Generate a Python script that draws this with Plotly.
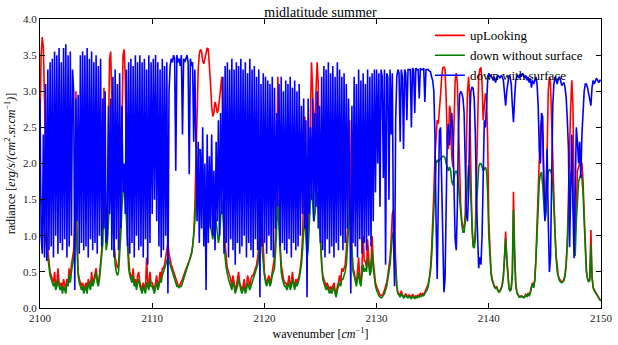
import numpy as np
import plotly.graph_objects as go

# wavenumber grid [cm^-1], 0.1 cm^-1 spacing, 2100..2150
wavenumber = np.round(2100 + np.arange(501) * 0.1, 1)

up_looking = [
    2.6, 3.5, 3.75, 3.6, 2.9, 1.8, 1.1, 0.8, 0.6, 0.5,
    0.45, 0.4, 0.35, 0.5, 0.3, 0.35, 0.55, 0.35, 0.3, 0.35,
    0.25, 0.4, 0.3, 0.25, 0.4, 0.35, 0.55, 0.4, 0.6, 0.7,
    0.8, 1.2, 3.0, 1.1, 0.5, 0.4, 0.35, 0.3, 0.35, 0.25,
    0.3, 0.35, 0.25, 0.4, 0.35, 0.3, 0.5, 0.35, 0.4, 0.5,
    0.55, 0.4, 0.35, 0.45, 0.6, 0.8, 1.2, 3.05, 1.4, 0.9,
    1.3, 2.6, 3.45, 3.55, 2.9, 1.6, 0.9, 0.7, 0.6, 0.55,
    0.6, 0.9, 1.5, 2.8, 3.5, 3.58, 3.2, 2.0, 1.0, 0.7,
    0.5, 0.45, 0.4, 0.55, 0.35, 0.4, 0.3, 0.45, 0.5, 0.35,
    0.3, 0.25, 0.35, 0.3, 0.25, 0.7, 0.35, 0.3, 0.5, 0.35,
    0.35, 0.3, 0.25, 0.35, 0.45, 0.3, 0.35, 0.5, 0.4, 0.55,
    0.55, 0.6, 0.7, 0.8, 0.9, 0.75, 0.65, 0.6, 0.55, 0.5,
    0.45, 0.4, 0.35, 0.32, 0.3, 0.33, 0.35, 0.4, 0.45, 0.5,
    0.55, 0.6, 0.62, 0.65, 0.7, 0.75, 0.85, 1.0, 1.4, 2.1,
    2.8, 3.3, 3.52, 3.58, 3.55, 3.42, 3.38, 3.45, 3.55, 3.6,
    3.58, 3.4, 3.1, 2.8, 2.65, 2.7, 2.85, 2.8, 2.7, 2.75,
    2.9, 3.05, 3.2, 2.6, 1.5, 0.9, 0.7, 0.55, 0.5, 0.45,
    0.4, 0.3, 0.45, 0.35, 0.25, 0.3, 0.4, 0.5, 0.35, 0.3,
    0.25, 0.3, 0.4, 0.25, 0.3, 0.45, 0.35, 0.3, 0.4, 0.45,
    0.45, 0.5, 0.55, 0.6, 0.7, 0.85, 1.3, 2.35, 1.2, 0.7,
    0.5, 0.4, 0.35, 0.4, 0.45, 0.35, 0.4, 0.5, 0.6, 0.7,
    1.0, 2.3, 3.2, 2.2, 0.9, 0.6, 0.45, 0.4, 0.35, 0.35,
    0.3, 0.35, 0.45, 0.3, 0.35, 0.5, 0.35, 0.3, 0.4, 0.35,
    0.4, 0.45, 0.55, 0.7, 1.0, 1.6, 2.65, 1.6, 0.9, 1.0,
    1.8, 3.0, 3.4, 3.0, 2.2, 2.6, 3.2, 3.4, 3.1, 2.0,
    1.0, 0.6, 0.45, 0.4, 0.35, 0.3, 0.35, 0.3, 0.25, 0.3,
    0.25, 0.3, 0.35, 0.25, 0.2, 0.3, 0.35, 0.45, 0.35, 0.55,
    0.5, 0.55, 0.6, 0.8, 1.1, 1.7, 2.6, 1.6, 0.8, 0.55,
    0.5, 0.4, 0.35, 0.5, 0.7, 0.4, 0.35, 0.6, 1.0, 0.65,
    0.65, 0.55, 0.95, 0.7, 0.5, 0.6, 1.0, 0.65, 0.45, 0.35,
    0.3, 0.25, 0.2, 0.18, 0.17, 0.18, 0.2, 0.25, 0.3, 0.35,
    0.45, 0.55, 0.7, 0.95, 1.3, 1.36, 1.0, 0.55, 0.3, 0.2,
    0.2, 0.17, 0.24, 0.18, 0.16, 0.17, 0.2, 0.17, 0.16, 0.18,
    0.17, 0.15, 0.19, 0.16, 0.15, 0.17, 0.16, 0.18, 0.17, 0.2,
    0.18, 0.2, 0.19, 0.22, 0.25, 0.28, 0.33, 0.42, 0.55, 0.8,
    1.1, 1.6, 2.1, 2.45, 2.6, 2.55, 2.7, 2.95, 3.2, 3.32,
    3.34, 3.3, 2.9, 2.3, 2.2, 2.8, 2.7, 2.1, 1.95, 2.6,
    3.15, 3.25, 3.1, 2.5, 1.8, 1.4, 1.2, 1.12, 1.1, 1.3,
    2.2, 3.0, 3.2, 2.9, 1.9, 1.1, 0.88, 0.85, 1.1, 1.9,
    2.8, 3.2, 3.3, 3.33, 3.1, 2.6, 2.8, 2.97, 2.9, 2.3,
    1.2, 0.7, 0.5, 0.4, 0.33, 0.3, 0.28, 0.3, 0.25, 0.23,
    0.24, 0.27, 0.33, 0.45, 0.7, 1.06, 0.7, 0.4, 0.28, 0.24,
    0.28, 0.5, 1.61, 0.8, 0.35, 0.22, 0.18, 0.16, 0.16, 0.17,
    0.16, 0.15, 0.16, 0.19, 0.17, 0.2, 0.18, 0.22, 0.3, 0.35,
    0.3, 0.4, 0.7, 1.2, 1.8, 2.3, 2.5, 2.6, 2.4, 1.8,
    1.3, 1.4, 2.4, 3.0, 3.2, 3.1, 2.6, 2.0, 1.5, 1.05,
    0.72, 0.52, 0.44, 0.4, 0.37, 0.36, 0.37, 0.4, 0.47, 0.63,
    0.95, 1.6, 2.3, 2.8, 3.15, 2.8, 1.6, 1.0, 1.4, 1.9,
    1.95, 2.0, 2.05, 2.0, 1.75, 1.3, 0.8, 0.52, 0.41, 0.37,
    0.4, 1.08, 0.45, 0.29, 0.25, 0.22, 0.2, 0.17, 0.14, 0.12,
    0.1,
]

down_without_surface = [
    1.5, 1.5, 1.4, 1.3, 1.1, 0.9, 0.8, 0.7, 0.55, 0.45,
    0.4, 0.35, 0.3, 0.35, 0.25, 0.3, 0.4, 0.3, 0.25, 0.3,
    0.2, 0.3, 0.25, 0.2, 0.35, 0.3, 0.45, 0.35, 0.5, 0.6,
    0.7, 0.9, 1.4, 0.8, 0.45, 0.35, 0.3, 0.25, 0.3, 0.2,
    0.25, 0.3, 0.2, 0.35, 0.3, 0.25, 0.4, 0.3, 0.35, 0.45,
    0.5, 0.35, 0.3, 0.4, 0.55, 0.7, 0.9, 1.6, 1.1, 0.8,
    0.9, 1.2, 1.5, 1.6, 1.3, 1.0, 0.75, 0.6, 0.5, 0.45,
    0.5, 0.7, 1.0, 1.4, 1.7, 1.8, 1.6, 1.2, 0.8, 0.55,
    0.45, 0.4, 0.35, 0.45, 0.3, 0.35, 0.25, 0.35, 0.4, 0.3,
    0.25, 0.2, 0.3, 0.25, 0.2, 0.35, 0.3, 0.25, 0.4, 0.3,
    0.3, 0.25, 0.2, 0.3, 0.35, 0.25, 0.3, 0.4, 0.35, 0.45,
    0.5, 0.55, 0.6, 0.65, 0.7, 0.65, 0.6, 0.55, 0.5, 0.45,
    0.4, 0.35, 0.3, 0.3, 0.28, 0.3, 0.3, 0.35, 0.4, 0.45,
    0.5, 0.55, 0.6, 0.65, 0.7, 0.75, 0.85, 1.0, 1.2, 1.5,
    1.8, 2.0, 2.2, 2.15, 2.0, 1.85, 1.7, 1.6, 1.5, 1.4,
    1.3, 1.2, 1.1, 1.0, 0.95, 1.1, 1.3, 1.2, 1.0, 0.9,
    1.0, 1.2, 1.5, 1.3, 0.9, 0.7, 0.55, 0.45, 0.4, 0.35,
    0.3, 0.25, 0.35, 0.3, 0.2, 0.25, 0.3, 0.4, 0.3, 0.25,
    0.2, 0.25, 0.3, 0.2, 0.25, 0.35, 0.3, 0.25, 0.3, 0.35,
    0.4, 0.45, 0.5, 0.55, 0.6, 0.7, 0.9, 1.2, 0.8, 0.6,
    0.45, 0.35, 0.3, 0.35, 0.4, 0.3, 0.35, 0.45, 0.5, 0.55,
    0.8, 1.2, 1.5, 1.1, 0.7, 0.5, 0.4, 0.35, 0.3, 0.3,
    0.25, 0.3, 0.35, 0.25, 0.3, 0.4, 0.3, 0.25, 0.35, 0.3,
    0.35, 0.4, 0.5, 0.6, 0.8, 1.0, 1.3, 1.0, 0.7, 0.8,
    1.2, 1.5, 1.7, 1.5, 1.2, 1.3, 1.5, 1.6, 1.4, 1.1,
    0.8, 0.5, 0.4, 0.35, 0.3, 0.25, 0.3, 0.25, 0.2, 0.25,
    0.2, 0.25, 0.3, 0.2, 0.15, 0.25, 0.3, 0.35, 0.3, 0.4,
    0.4, 0.45, 0.5, 0.6, 0.8, 1.1, 1.5, 1.1, 0.7, 0.5,
    0.45, 0.35, 0.3, 0.4, 0.5, 0.35, 0.3, 0.45, 0.6, 0.5,
    0.55, 0.5, 0.7, 0.6, 0.45, 0.5, 0.8, 0.55, 0.4, 0.3,
    0.25, 0.2, 0.17, 0.15, 0.14, 0.15, 0.17, 0.2, 0.25, 0.3,
    0.4, 0.5, 0.6, 0.8, 1.0, 1.05, 0.8, 0.5, 0.3, 0.2,
    0.18, 0.15, 0.2, 0.16, 0.14, 0.15, 0.18, 0.15, 0.14, 0.16,
    0.15, 0.13, 0.16, 0.14, 0.13, 0.15, 0.14, 0.16, 0.15, 0.17,
    0.16, 0.18, 0.17, 0.2, 0.22, 0.25, 0.3, 0.38, 0.5, 0.7,
    1.0, 1.4, 1.8, 2.0, 2.05, 2.02, 2.05, 2.07, 2.08, 2.1,
    2.1, 2.08, 2.0, 1.95, 1.9, 1.95, 1.9, 1.75, 1.7, 1.8,
    1.88, 1.9, 1.85, 1.7, 1.5, 1.3, 1.15, 1.05, 1.05, 1.2,
    1.5, 1.85, 1.98, 1.9, 1.5, 1.1, 0.85, 0.83, 0.95, 1.4,
    1.8, 1.95, 2.0, 2.0, 1.95, 1.9, 1.92, 1.95, 1.9, 1.6,
    1.0, 0.65, 0.48, 0.38, 0.32, 0.29, 0.27, 0.28, 0.24, 0.22,
    0.23, 0.26, 0.31, 0.43, 0.66, 0.96, 0.66, 0.38, 0.27, 0.23,
    0.26, 0.45, 1.36, 0.7, 0.33, 0.21, 0.17, 0.15, 0.15, 0.16,
    0.15, 0.14, 0.15, 0.18, 0.16, 0.19, 0.17, 0.2, 0.28, 0.33,
    0.28, 0.38, 0.65, 1.05, 1.45, 1.75, 1.85, 1.88, 1.7, 1.4,
    1.22, 1.3, 1.7, 1.88, 1.92, 1.9, 1.85, 1.7, 1.4, 1.0,
    0.7, 0.5, 0.42, 0.38, 0.36, 0.35, 0.36, 0.38, 0.45, 0.6,
    0.9, 1.35, 1.7, 1.85, 1.88, 1.6, 1.0, 0.72, 1.2, 1.6,
    1.75, 1.8, 1.85, 1.8, 1.6, 1.2, 0.75, 0.5, 0.4, 0.36,
    0.38, 0.87, 0.42, 0.28, 0.24, 0.21, 0.19, 0.16, 0.13, 0.11,
    0.1,
]

down_with_surface = [
    2.9, 1.0, 0.75, 2.4, 0.7, 3.1, 0.65, 3.3, 0.8, 3.4,
    0.85, 3.45, 0.7, 3.55, 1.0, 3.5, 0.75, 3.6, 0.9, 3.4,
    0.8, 3.6, 0.95, 3.65, 0.7, 3.5, 0.85, 3.55, 1.0, 3.3,
    3.0, 0.25, 2.9, 1.2, 2.95, 0.75, 3.5, 0.9, 3.55, 0.8,
    3.5, 0.85, 3.6, 0.7, 3.45, 0.95, 3.55, 0.8, 3.4, 0.9,
    3.5, 0.75, 3.35, 1.0, 3.45, 0.85, 2.9, 1.1, 3.0, 0.9,
    1.0, 2.8, 1.3, 2.9, 0.8, 3.2, 0.7, 3.3, 0.95, 3.1,
    0.8, 3.25, 1.1, 2.8, 1.6, 2.0, 1.3, 3.3, 0.85, 3.4,
    0.75, 3.45, 0.9, 3.35, 0.7, 3.5, 1.0, 3.4, 0.8, 3.5,
    0.85, 3.4, 0.7, 3.45, 0.95, 3.3, 0.6, 3.5, 0.9, 3.4,
    1.3, 3.45, 1.5, 3.5, 1.2, 3.4, 0.85, 3.3, 0.7, 3.45,
    0.8, 3.35, 1.0, 3.4, 0.2, 3.0, 3.35, 3.45, 3.4, 3.5,
    3.45, 1.9, 3.5, 3.4, 3.45, 3.35, 3.5, 2.4, 3.45, 3.4,
    3.45, 3.5, 3.4, 1.85, 3.45, 3.35, 3.4, 2.3, 3.3, 1.8,
    1.2, 2.3, 0.9, 2.2, 1.1, 2.5, 0.85, 2.0, 0.25, 2.4,
    0.9, 2.1, 1.1, 2.4, 1.0, 1.9, 0.8, 2.3, 1.2, 2.6,
    1.0, 2.7, 1.3, 3.2, 0.75, 3.35, 0.9, 3.4, 0.7, 3.3,
    0.95, 3.45, 0.8, 3.3, 0.6, 3.4, 0.9, 3.35, 0.75, 3.45,
    0.85, 3.3, 1.0, 3.4, 0.7, 3.25, 0.9, 3.45, 0.8, 3.3,
    0.7, 3.35, 0.95, 3.2, 0.8, 3.3, 0.15, 3.1, 0.85, 3.25,
    0.9, 3.2, 0.75, 3.15, 1.0, 3.1, 0.8, 3.2, 0.7, 3.05,
    1.1, 2.7, 1.4, 3.1, 0.85, 3.2, 0.9, 3.0, 0.8, 3.15,
    0.75, 3.1, 0.95, 3.2, 0.7, 3.05, 0.9, 3.15, 0.8, 3.0,
    0.85, 3.1, 1.0, 2.8, 1.3, 2.9, 1.1, 2.6, 0.15, 2.9,
    1.3, 2.5, 1.5, 2.9, 1.2, 2.7, 1.4, 3.0, 1.1, 2.8,
    0.9, 3.2, 0.8, 3.35, 0.7, 3.3, 0.95, 3.4, 0.75, 3.25,
    0.85, 3.35, 0.7, 3.2, 0.9, 3.4, 0.8, 3.3, 1.0, 3.2,
    0.8, 3.25, 0.9, 3.1, 1.1, 2.9, 1.3, 0.2, 2.8, 0.9,
    3.2, 0.85, 3.1, 0.7, 3.3, 0.95, 3.15, 0.75, 3.25, 0.9,
    3.1, 0.8, 3.3, 1.0, 3.2, 0.85, 3.25, 1.2, 3.3, 1.6,
    3.3, 2.0, 3.25, 1.4, 3.3, 3.2, 1.8, 3.3, 0.6, 3.25,
    3.2, 1.5, 3.3, 2.4, 3.25, 1.0, 0.3, 2.6, 3.2, 3.3,
    3.25, 2.3, 3.3, 3.2, 2.2, 3.3, 3.25, 2.6, 3.3, 3.3,
    3.3, 2.5, 3.32, 3.3, 2.7, 3.32, 3.3, 3.3, 2.9, 3.32,
    3.3, 3.3, 3.32, 2.85, 3.3, 3.3, 3.3, 3.28, 3.27, 3.2,
    3.15, 3.0, 2.4, 1.2, 0.4, 1.5, 2.45, 2.5, 1.6, 0.6,
    0.22, 0.4, 1.6, 2.4, 2.55, 2.25, 2.5, 2.7, 2.4, 1.6,
    0.95, 0.8, 1.4, 2.5, 2.95, 3.0, 2.97, 2.9, 2.7, 2.0,
    1.3, 1.2, 1.6, 2.6, 3.0, 3.06, 3.04, 2.9, 2.4, 1.5,
    0.8, 0.55, 0.7, 0.6, 1.0, 1.9, 2.6, 2.5, 2.9, 3.15,
    3.25, 3.2, 3.22, 3.18, 3.15, 3.2, 3.12, 3.18, 3.22, 3.2,
    3.18, 3.22, 3.2, 3.15, 3.0, 2.8, 3.0, 3.15, 3.22, 3.2,
    3.1, 2.8, 2.57, 2.9, 3.15, 3.2, 3.22, 3.18, 3.24, 3.2,
    3.25, 3.22, 3.18, 3.22, 3.15, 3.2, 3.12, 3.18, 3.05, 3.15,
    3.1, 3.15, 3.2, 3.1, 2.8, 2.2, 2.0, 2.7, 2.65, 1.8,
    1.2, 1.6, 2.2, 1.2, 0.5, 0.7, 1.8, 2.8, 3.1, 3.2,
    3.15, 3.1, 3.18, 3.2, 3.15, 3.08, 3.1, 3.12, 3.05, 2.9,
    2.6, 2.2, 0.84, 1.6, 2.4, 1.4, 0.69, 1.6, 2.5, 2.3,
    2.0, 2.3, 1.8, 2.4, 2.8, 3.0, 3.1, 3.1, 3.05, 2.95,
    2.85, 2.8, 3.05, 3.15, 3.1, 3.15, 3.18, 3.15, 3.12, 3.15,
    3.15,
]

series_names = ["upLooking", "down without surface", "down with surface"]
series_colors = ["#ff0000", "#008000", "#0000ff"]
x_ticks = [2100, 2110, 2120, 2130, 2140, 2150]
y_ticks = [0.0, 0.5, 1.0, 1.5, 2.0, 2.5, 3.0, 3.5, 4.0]

FONT = "Liberation Serif, DejaVu Serif, serif"

fig = go.Figure()
for name, vals, col in zip(series_names,
                           [up_looking, down_without_surface, down_with_surface],
                           series_colors):
    fig.add_trace(go.Scatter(x=wavenumber, y=vals, mode="lines", name=name,
                             line=dict(color=col, width=1.6)))

axis_common = dict(showline=True, linecolor="black", linewidth=1, mirror="allticks",
                   ticks="inside", ticklen=5, tickcolor="black", showgrid=False,
                   zeroline=False, automargin=False,
                   tickfont=dict(family=FONT, size=11, color="#222"))

fig.update_layout(
    width=618, height=345,
    margin=dict(l=40, r=17, t=19, b=37),
    paper_bgcolor="white", plot_bgcolor="white",
    font=dict(family=FONT, size=12, color="black"),
    title=dict(text="midlatitude summer", x=0.5, xref="paper", xanchor="center",
               y=1 - 12 / 345, yref="container", yanchor="middle",
               font=dict(family=FONT, size=14, color="black")),
    xaxis=dict(range=[2100, 2150], tickvals=x_ticks, **axis_common,
               title=dict(text="wavenumber [<i>cm</i><sup>−1</sup>]", standoff=6,
                          font=dict(family=FONT, size=12))),
    yaxis=dict(range=[0, 4], tickvals=y_ticks, tickformat=".1f", **axis_common,
               title=dict(text="radiance [<i>erg/s/(cm</i><sup>2</sup><i>.sr.cm</i><sup>−1</sup><i>)</i>]",
                          standoff=4, font=dict(family=FONT, size=12))),
    legend=dict(x=0.695, y=0.995, xanchor="left", yanchor="top",
                bgcolor="rgba(0,0,0,0)", borderwidth=0,
                font=dict(family=FONT, size=13, color="black"),
                itemwidth=30, tracegroupgap=0),
    showlegend=True,
)

fig.write_html("out.html")
